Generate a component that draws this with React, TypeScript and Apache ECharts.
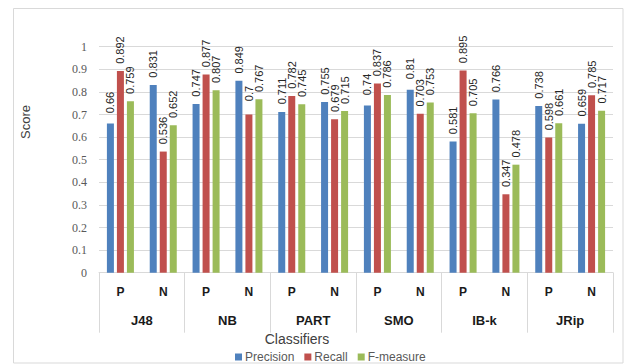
import React, { useEffect, useRef } from "react";
import * as echarts from "echarts";

// Classifier groups and the two class rows under each one
const classifiers = ["J48", "NB", "PART", "SMO", "IB-k", "JRip"];
const classes = ["P", "N"];

// Per-class scores, ordered J48 P, J48 N, NB P, NB N, ...
const precision = [0.66, 0.831, 0.747, 0.849, 0.711, 0.755, 0.74, 0.81, 0.581, 0.766, 0.738, 0.659];
const recall = [0.892, 0.536, 0.877, 0.7, 0.782, 0.679, 0.837, 0.703, 0.895, 0.347, 0.598, 0.785];
const fMeasure = [0.759, 0.652, 0.807, 0.767, 0.745, 0.715, 0.786, 0.753, 0.705, 0.478, 0.661, 0.717];

const seriesNames = ["Precision", "Recall", "F-measure"];
const seriesColors = ["#4f81bd", "#c0504d", "#9bbb59"];

const classCategories = classifiers.flatMap((c) => classes.map((k) => `${c}-${k}`));

export default function App() {
  const ref = useRef<HTMLDivElement>(null);

  useEffect(() => {
    if (!ref.current) return;
    const chart = echarts.init(ref.current, null, { renderer: "svg" });

    const makeSeries = (name: string, data: number[], color: string) => ({
      name,
      type: "bar",
      xAxisIndex: 0,
      data,
      barWidth: 7,
      barGap: "43%",
      itemStyle: { color },
      label: {
        show: true,
        position: "top",
        rotate: 90,
        distance: 21,
        align: "center",
        verticalAlign: "middle",
        fontFamily: "Liberation Sans",
        fontSize: 11,
        color: "#262626",
        formatter: (p: any) => String(p.value),
      },
    });

    chart.setOption({
      animation: false,
      grid: { left: 99, right: 14, top: 46.7, bottom: 91.3 },
      legend: {
        data: seriesNames,
        left: 230,
        top: 346,
        itemWidth: 7,
        itemHeight: 7,
        itemGap: 10,
        icon: "rect",
        textStyle: { fontFamily: "Liberation Sans", fontSize: 12, color: "#595959", padding: [0, 0, 0, -2] },
      },
      xAxis: [
        {
          type: "category",
          data: classCategories,
          axisLine: { show: true, lineStyle: { color: "#d9d9d9" } },
          axisTick: { show: false },
          axisLabel: {
            interval: 0,
            margin: 13,
            fontFamily: "Liberation Sans",
            fontSize: 12,
            fontWeight: "bold",
            color: "#1a1a1a",
            formatter: (v: string) => v.split("-").pop(),
          },
        },
        {
          type: "category",
          data: classifiers,
          position: "bottom",
          axisLine: { show: false },
          axisTick: { show: true, length: 60, interval: 0, lineStyle: { color: "#d9d9d9" } },
          axisLabel: {
            interval: 0,
            margin: 41,
            fontFamily: "Liberation Sans",
            fontSize: 13,
            fontWeight: "bold",
            color: "#1a1a1a",
          },
        },
      ],
      yAxis: {
        type: "value",
        min: 0,
        max: 1,
        interval: 0.1,
        axisLine: { show: false },
        axisTick: { show: false },
        splitLine: { lineStyle: { color: "#d9d9d9" } },
        axisLabel: {
          margin: 12,
          fontFamily: "Liberation Serif",
          fontSize: 12,
          color: "#595959",
          formatter: (v: number) => String(+v.toFixed(1)),
        },
      },
      graphic: [
        {
          type: "rect",
          shape: { x: 13.5, y: 8.5, width: 609.5, height: 354.5 },
          style: { fill: "none", stroke: "#d9d9d9", lineWidth: 1 },
          silent: true,
          z: -1,
        },
        {
          type: "text",
          x: 25,
          y: 122,
          rotation: Math.PI / 2,
          style: {
            text: "Score",
            fontFamily: "Liberation Sans",
            fontSize: 13,
            fill: "#404040",
            align: "center",
            verticalAlign: "middle",
          },
        },
        {
          type: "text",
          x: 297,
          y: 339,
          style: {
            text: "Classifiers",
            fontFamily: "Liberation Sans",
            fontSize: 14,
            fill: "#404040",
            align: "center",
            verticalAlign: "middle",
          },
        },
      ],
      series: [
        makeSeries(seriesNames[0], precision, seriesColors[0]),
        makeSeries(seriesNames[1], recall, seriesColors[1]),
        makeSeries(seriesNames[2], fMeasure, seriesColors[2]),
      ],
    });

    return () => chart.dispose();
  }, []);

  return (
    <div
      ref={ref}
      style={{ position: "absolute", left: 0, top: 0, width: 627, height: 364, background: "#fff" }}
    />
  );
}
